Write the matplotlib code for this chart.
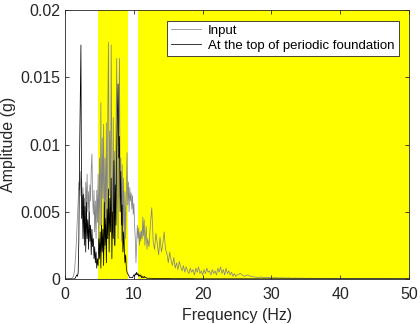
import numpy as np
import matplotlib
matplotlib.use("Agg")
import matplotlib.pyplot as plt

plt.rcParams['font.family'] = ['Liberation Sans', 'DejaVu Sans']

# ---- data: Input (grey) ----
input_seg1_start, input_seg1_step = 0.0, 0.1
input_seg1 = [
    0, 0, 0, 0, 0, 0.00001, 0.00001, 0.00002, 0.00002, 0.00003,
    0.00005, 0.0001, 0.0002, 0.0004, 0.0008, 0.0015, 0.0024, 0.0035, 0.0046, 0.0058,
    0.0072, 0.0066, 0.0080, 0.0062, 0.0075, 0.0052, 0.0068, 0.0041, 0.0060, 0.0038,
    0.0072, 0.0055, 0.0078, 0.0050, 0.0065, 0.0044, 0.0070, 0.0058, 0.0082, 0.0093,
    0.0061, 0.0048, 0.0066, 0.0035, 0.0058, 0.0030, 0.0066, 0.0042, 0.0078, 0.0025,
    0.0090, 0.0040, 0.0131, 0.0028, 0.0105, 0.0060, 0.0115, 0.0022, 0.0090, 0.0045,
    0.0116, 0.0030, 0.0120, 0.0176, 0.0062, 0.0110, 0.0040, 0.0174, 0.0085, 0.0035,
    0.0120, 0.0050, 0.0095, 0.0025, 0.0110, 0.0164, 0.0070, 0.0030, 0.0105, 0.0164,
    0.0060, 0.0090, 0.0028, 0.0085, 0.0040, 0.0075, 0.0020, 0.0065, 0.0030, 0.0060,
    0.0094, 0.0055, 0.0072, 0.0050, 0.0068, 0.0058, 0.0064, 0.0052, 0.0062, 0.0048,
    0.0056, 0.0040, 0.0030, 0.0012, 0.0025, 0.0040, 0.0030, 0.0038, 0.0025, 0.0035,
    0.0028, 0.0036, 0.0030, 0.0046, 0.0032, 0.0044, 0.0025, 0.0033, 0.0039, 0.0022,
    0.0030,
]
input_seg2_start, input_seg2_step = 12.2, 0.2
input_seg2 = [
    0.0024, 0.0041, 0.0053, 0.0028, 0.0022, 0.0034, 0.0026, 0.0018, 0.0031, 0.0020,
    0.0026, 0.0035, 0.0022, 0.0019, 0.0012, 0.0020, 0.0014, 0.0010, 0.0016, 0.0008,
    0.0012, 0.0007, 0.0013, 0.0009, 0.0006, 0.0010, 0.0005, 0.0009, 0.0006, 0.0004,
    0.0008, 0.0005, 0.0007, 0.0003, 0.0008, 0.0005, 0.0009, 0.0004, 0.0006, 0.0003,
    0.0007, 0.0004, 0.0008, 0.0005, 0.0006, 0.0003, 0.0007, 0.0004, 0.0006, 0.0003,
    0.0008, 0.0005, 0.0009, 0.0004, 0.0007, 0.0003, 0.0008, 0.0004, 0.0006, 0.0003,
    0.0005, 0.0002, 0.0004, 0.0002, 0.0003,
]
input_seg3_start, input_seg3_step = 25.5, 0.5
input_seg3 = [
    0.0004, 0.0002, 0.0003, 0.0002, 0.00015, 0.0001, 0.00015, 0.0001, 0.00012, 0.00008,
    0.0001, 0.00007, 0.00009, 0.00006, 0.00008, 0.00005, 0.00007, 0.00005, 0.00006, 0.00004,
    0.00006, 0.00004, 0.00005, 0.00004, 0.00005, 0.00003, 0.00005, 0.00003, 0.00004, 0.00003,
    0.00004, 0.00003, 0.00004, 0.00003, 0.00003, 0.00002, 0.00003, 0.00002, 0.00003, 0.00002,
    0.00003, 0.00002, 0.00003, 0.00002, 0.00002, 0.00002, 0.00002, 0.00002, 0.00002, 0.00002,
]

# ---- data: At the top of periodic foundation (black) ----
top_seg1_start, top_seg1_step = 0.0, 0.1
top_seg1 = [
    0, 0, 0, 0, 0, 0, 0, 0, 0, 0,
    0, 0, 0, 0, 0, 0.0001, 0.0002, 0.0003, 0.0002, 0.0005,
    0.0030, 0.0090, 0.0133, 0.0174, 0.0045, 0.0062, 0.0030, 0.0063, 0.0025, 0.0054,
    0.0020, 0.0057, 0.0030, 0.0044, 0.0022, 0.0050, 0.0028, 0.0040, 0.0018, 0.0037,
    0.0024, 0.0030, 0.0015, 0.0024, 0.0012, 0.0020, 0.0008, 0.0015, 0.0010, 0.0030,
    0.0015, 0.0035, 0.0008, 0.0040, 0.0020, 0.0037, 0.0010, 0.0057, 0.0025, 0.0045,
    0.0012, 0.0052, 0.0030, 0.0067, 0.0020, 0.0060, 0.0035, 0.0075, 0.0015, 0.0050,
    0.0030, 0.0088, 0.0025, 0.0070, 0.0040, 0.0095, 0.0120, 0.0145, 0.0090, 0.0106,
    0.0050, 0.0080, 0.0040, 0.0055, 0.0020, 0.0035, 0.0021, 0.0012, 0.0018, 0.0008,
    0.0005, 0.0004, 0.0003, 0.0002, 0.0001, 0.0001, 0.0001, 0.0001, 0.0001, 0.0002,
    0.0003, 0.0002, 0.0004, 0.0003, 0.0005, 0.0003, 0.0004, 0.0002, 0.0003, 0.0002,
    0.0003, 0.0001, 0.0002, 0.0001, 0.0001, 0.0002, 0.0001, 0.0001, 0.0001, 0.00005,
    0.00005,
]
top_seg2_start, top_seg2_step = 12.5, 0.5
top_seg2 = [
    0.00005, 0.00004, 0.00004, 0.00003, 0.00003, 0.00003, 0.00002, 0.00002, 0.00002, 0.00002,
    0.00002, 0.00002, 0.00002, 0.00001, 0.00001, 0.00001, 0.00001, 0.00001, 0.00001, 0.00001,
    0.00001, 0.00001, 0.00001, 0.00001, 0.00001, 0.00001, 0.00001, 0.00001, 0.00001, 0.00001,
    0.00001, 0.00001, 0.00001, 0.00001, 0.00001, 0.00001, 0.00001, 0.00001, 0.00001, 0.00001,
    0.00001, 0.00001, 0.00001, 0.00001, 0.00001, 0.00001, 0.00001, 0.00001, 0.00001, 0.00001,
    0.00001, 0.00001, 0.00001, 0.00001, 0.00001, 0.00001, 0.00001, 0.00001, 0.00001, 0.00001,
    0.00001, 0.00001, 0.00001, 0.00001, 0.00001, 0.00001, 0.00001, 0.00001, 0.00001, 0.00001,
    0.00001, 0.00001, 0.00001, 0.00001, 0.00001, 0.00001,
]

# shaded frequency bands (Hz)
band_edges = [(4.8, 9.2), (10.6, 50.0)]

x_ticks = [0, 10, 20, 30, 40, 50]
y_ticks = [0, 0.005, 0.01, 0.015, 0.02]
y_tick_labels = ['0', '0.005', '0.01', '0.015', '0.02']
series_labels = ['Input', 'At the top of periodic foundation']


def build(segments):
    fs, vs = [], []
    for start, step, vals in segments:
        fs.append(start + step * np.arange(len(vals)))
        vs.append(np.array(vals, dtype=float))
    return np.concatenate(fs), np.concatenate(vs)


f_in, a_in = build([(input_seg1_start, input_seg1_step, input_seg1),
                    (input_seg2_start, input_seg2_step, input_seg2),
                    (input_seg3_start, input_seg3_step, input_seg3)])
f_top, a_top = build([(top_seg1_start, top_seg1_step, top_seg1),
                      (top_seg2_start, top_seg2_step, top_seg2)])

fig = plt.figure(figsize=(4.2, 3.24), dpi=100)
ax = fig.add_axes([0.155, 0.139, 0.819, 0.830])

for lo, hi in band_edges:
    ax.axvspan(lo, hi, color='#ffff00', lw=0, zorder=0)

ax.plot(f_in, a_in, color='#858585', lw=0.55, label=series_labels[0], zorder=2)
ax.plot(f_top, a_top, color='black', lw=0.55, label=series_labels[1], zorder=3)

ax.set_xlim(0, 50)
ax.set_ylim(0, 0.02)
ax.set_xticks(x_ticks)
ax.set_yticks(y_ticks)
ax.set_yticklabels(y_tick_labels)
ax.tick_params(direction='in', top=True, right=True, labelsize=11.5,
               length=3, width=0.6, colors='#262626')
ax.tick_params(axis='x', pad=6)
for s in ax.spines.values():
    s.set_linewidth(0.6)
    s.set_color('#262626')

ax.set_xlabel('Frequency (Hz)', fontsize=11.5, labelpad=4, color='#262626')
ax.set_ylabel('Amplitude (g)', fontsize=11.5, labelpad=3, color='#262626')

leg = ax.legend(loc='upper right', fontsize=9.5, frameon=True, fancybox=False,
                edgecolor='#262626', framealpha=1, handlelength=2.3,
                borderpad=0.3, labelspacing=0.2, handletextpad=0.5,
                borderaxespad=0.8)
leg.get_frame().set_linewidth(0.6)

fig.savefig('out.png', dpi=100)
